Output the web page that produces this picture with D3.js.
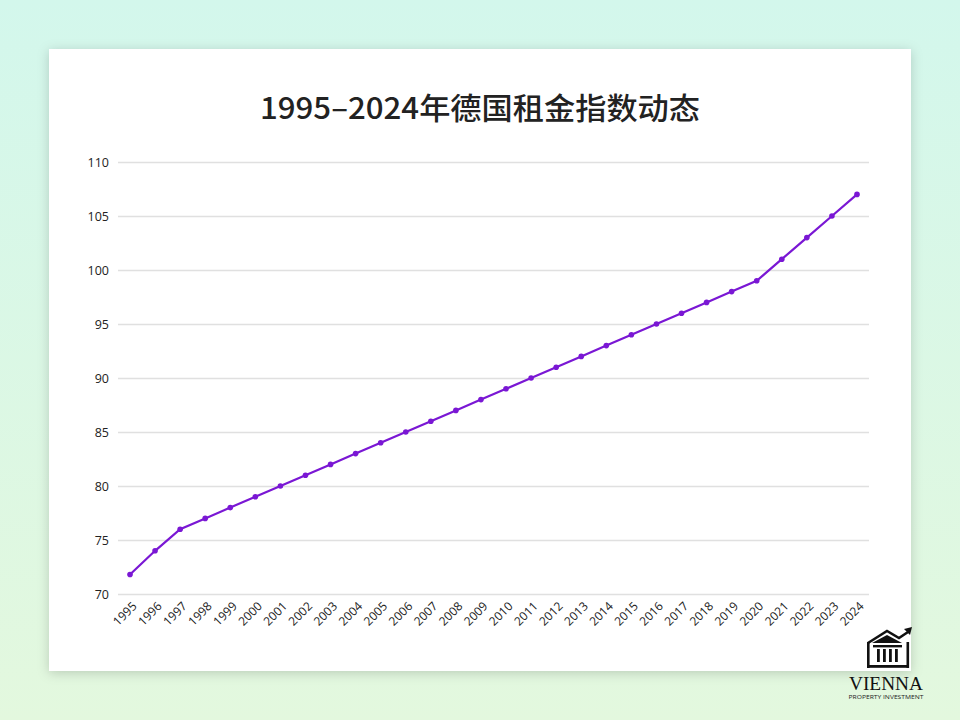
<!DOCTYPE html>
<html><head><meta charset="utf-8">
<script src="https://cdn.jsdelivr.net/npm/d3@7"></script>
<style>
html,body{margin:0;padding:0;}
body{width:960px;height:720px;overflow:hidden;}
</style></head>
<body>
<script>
const years = ["1995","1996","1997","1998","1999","2000","2001","2002","2003","2004","2005","2006","2007","2008","2009","2010","2011","2012","2013","2014","2015","2016","2017","2018","2019","2020","2021","2022","2023","2024"];
const rentIndex = [71.8,74,76,77,78,79,80,81,82,83,84,85,86,87,88,89,90,91,92,93,94,95,96,97,98,99,101,103,105,107];
const yTicks = [70,75,80,85,90,95,100,105,110];
const title = "1995–2024年德国租金指数动态";

const W=960,H=720;
const svg=d3.select("body").append("svg").attr("width",W).attr("height",H);
const defs=svg.append("defs");
const bg=defs.append("linearGradient").attr("id","bg").attr("x1",0).attr("y1",0).attr("x2",0).attr("y2",1);
bg.append("stop").attr("offset","0%").attr("stop-color","#d3f7ec");
bg.append("stop").attr("offset","100%").attr("stop-color","#e3f8de");
const f=defs.append("filter").attr("id","sh").attr("x","-10%").attr("y","-10%").attr("width","120%").attr("height","120%");
f.append("feDropShadow").attr("dx",0).attr("dy",2).attr("stdDeviation",6).attr("flood-color","#000").attr("flood-opacity",0.18);

svg.append("rect").attr("width",W).attr("height",H).attr("fill","url(#bg)");
svg.append("rect").attr("x",49).attr("y",49).attr("width",862).attr("height",622).attr("fill","#fff").attr("filter","url(#sh)");

svg.append("text").attr("x",480).attr("y",119).attr("text-anchor","middle")
  .attr("font-family","'Noto Sans CJK SC',sans-serif").attr("font-size",30).attr("font-weight",500)
  .attr("fill","#222").attr("textLength",440).attr("lengthAdjust","spacingAndGlyphs").text(title);

const x=d3.scalePoint().domain(years).range([130,857]);
const y=d3.scaleLinear().domain([70,110]).range([594,162]);

const gy=svg.append("g").attr("transform","translate(118,0)")
  .call(d3.axisLeft(y).tickValues(yTicks).tickSize(-751).tickPadding(9));
gy.select(".domain").remove();
gy.selectAll(".tick line").attr("stroke","#e0e0e0").attr("stroke-width",1.5);
gy.selectAll(".tick text").attr("font-family","'Open Sans',sans-serif").attr("font-size",12.5).attr("fill","#222");

const gx=svg.append("g").attr("transform","translate(0,594)")
  .call(d3.axisBottom(x).tickSize(0).tickPadding(0));
gx.select(".domain").remove();
gx.selectAll(".tick text").attr("font-family","'Open Sans',sans-serif").attr("font-size",12).attr("fill","#222")
  .attr("text-anchor","end").attr("dy",0).attr("transform","translate(7,13) rotate(-45)");

const data=years.map((d,i)=>({yr:d,v:rentIndex[i]}));
svg.append("path").datum(data).attr("fill","none").attr("stroke","#7a17d4").attr("stroke-width",2.2)
  .attr("d",d3.line().x(d=>x(d.yr)).y(d=>y(d.v)));
svg.selectAll("circle.pt").data(data).enter().append("circle").attr("class","pt")
  .attr("cx",d=>x(d.yr)).attr("cy",d=>y(d.v)).attr("r",2.8).attr("fill","#7a17d4");

// logo
const lg=svg.append("g").attr("transform","translate(866,628)");
lg.append("path").attr("d","M2 15 L21 3 L33 10 L42 4").attr("fill","none").attr("stroke","#111").attr("stroke-width",2.6);
lg.append("path").attr("d","M38 1 L46 -1 L44 7 Z").attr("fill","#111");
lg.append("path").attr("d","M6 15 L21 7 L36 15 Z").attr("fill","#111");
lg.append("rect").attr("x",1).attr("y",14).attr("width",2.6).attr("height",26).attr("fill","#111");
lg.append("rect").attr("x",1).attr("y",37).attr("width",42).attr("height",2.8).attr("fill","#111");
lg.append("rect").attr("x",40.5).attr("y",14).attr("width",2.6).attr("height",26).attr("fill","#111");
lg.append("rect").attr("x",7).attr("y",17).attr("width",29).attr("height",2.4).attr("fill","#111");
[11,17,23,29].forEach(px=>lg.append("rect").attr("x",px).attr("y",21).attr("width",2.8).attr("height",13).attr("fill","#111"));
svg.append("text").attr("x",886).attr("y",690).attr("text-anchor","middle").attr("font-family","'Liberation Serif',serif")
  .attr("font-size",19).attr("fill","#111").attr("textLength",74).attr("lengthAdjust","spacingAndGlyphs").text("VIENNA");
svg.append("text").attr("x",886).attr("y",699).attr("text-anchor","middle").attr("font-family","'Open Sans',sans-serif")
  .attr("font-size",6).attr("fill","#222").attr("textLength",75).attr("lengthAdjust","spacingAndGlyphs").text("PROPERTY INVESTMENT");
</script>
</body></html>
